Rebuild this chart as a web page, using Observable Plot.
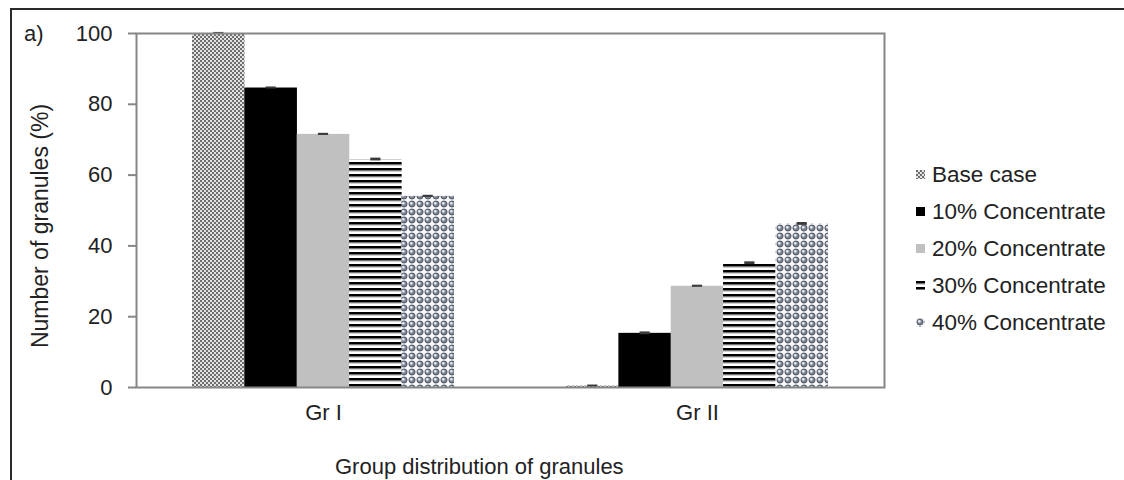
<!DOCTYPE html>
<html>
<head>
<meta charset="utf-8">
<script src="https://cdn.jsdelivr.net/npm/d3@7"></script>
<script src="https://cdn.jsdelivr.net/npm/@observablehq/plot@0.6"></script>
<style>
  body { margin: 0; background: #fff; font-family: "Liberation Sans", Arial, sans-serif; }
  #wrap { position: relative; width: 1124px; height: 480px; overflow: hidden; background: #fff; }
  #chart { position: absolute; left: 0; top: 0; }
  #outline { position: absolute; left: 10px; top: 8px; width: 1300px; height: 700px;
             border-left: 2px solid #2a2a2a; border-top: 2px solid #2a2a2a; }
  .txt { position: absolute; color: #222; white-space: nowrap; line-height: 1; }
  #panel { left: 24px; top: 23px; font-size: 22px; }
  #ytitle { left: 40px; top: 226px; font-size: 23px; transform: translate(-50%, -50%) rotate(-90deg); }
  #xtitle { left: 335px; top: 456px; font-size: 22px; }
  #legend { position: absolute; left: 916px; top: 156px; }
  .item { display: flex; align-items: center; height: 37px; font-size: 22.5px; color: #222; }
  .item svg { margin-right: 7px; }
</style>
</head>
<body>
<div id="wrap">
  <div id="outline"></div>
  <div id="chart"></div>
  <div class="txt" id="panel">a)</div>
  <div class="txt" id="ytitle">Number of granules (%)</div>
  <div class="txt" id="xtitle">Group distribution of granules</div>
  <div id="legend"></div>
</div>
<script>
// Granule groups and concentrate levels
const groups = ["Gr I", "Gr II"];
const series = ["Base case", "10% Concentrate", "20% Concentrate", "30% Concentrate", "40% Concentrate"];

// Share of granules (%) per series, Gr I then Gr II
const grIValues  = [100, 84.6, 71.5, 64.4, 54.0];
const grIIValues = [0.4, 15.3, 28.6, 35.1, 46.2];

// Standard errors
const grIErrors  = [0.3, 0.3, 0.3, 0.4, 0.3];
const grIIErrors = [0.3, 0.4, 0.3, 0.4, 0.4];

const yTicks = [0, 20, 40, 60, 80, 100];

// Fill for each series (patterns defined below)
const fills = ["url(#p-base)", "#000000", "#c0c0c0", "url(#p-stripe)", "url(#p-bubble)"];

const rows = series.flatMap((s, i) => [
  {group: groups[0], series: s, value: grIValues[i], error: grIErrors[i]},
  {group: groups[1], series: s, value: grIIValues[i], error: grIIErrors[i]}
]);

const W = 1124, H = 480;
const mL = 136, mR = 240, mT = 33, mB = 93;

// Width of one bar inside a group band (same band settings as the x scale)
const band = d3.scaleBand().domain(groups).range([mL, W - mR]).paddingInner(0.3).paddingOuter(0.15);
const bw = band.bandwidth() / series.length;
const capW = 10;

const barMarks = series.flatMap((s, i) => {
  const data = rows.filter(d => d.series === s);
  return [
    Plot.barY(data, {
      x: "group", y: "value", fill: fills[i],
      insetLeft: i * bw, insetRight: (series.length - 1 - i) * bw
    }),
    Plot.barY(data, {
      x: "group", y1: d => d.value - d.error, y2: d => d.value + d.error, fill: "#3a3a3a",
      insetLeft: i * bw + bw / 2 - capW / 2,
      insetRight: (series.length - 1 - i) * bw + bw / 2 - capW / 2
    })
  ];
});

const svg = Plot.plot({
  width: W, height: H,
  marginLeft: mL, marginRight: mR, marginTop: mT, marginBottom: mB,
  style: {fontFamily: "Liberation Sans, Arial, sans-serif", fontSize: "22px", color: "#222", background: "transparent", overflow: "visible"},
  x: {domain: groups, paddingInner: 0.3, paddingOuter: 0.15, label: null, tickSize: 0, tickPadding: 17},
  y: {domain: [0, 100], ticks: yTicks, tickSize: 8, tickPadding: 16, label: null},
  marks: [
    ...barMarks,
    Plot.frame({stroke: "#868686", strokeWidth: 2})
  ]
});

// Pattern definitions used by the bars and the legend swatches
const defs = d3.select(svg).insert("defs", ":first-child");

const pBase = defs.append("pattern").attr("id", "p-base").attr("patternUnits", "userSpaceOnUse")
  .attr("width", 4).attr("height", 4);
pBase.append("rect").attr("width", 4).attr("height", 4).attr("fill", "#e2e2e2");
pBase.append("rect").attr("width", 2).attr("height", 2).attr("fill", "#6e6e6e");
pBase.append("rect").attr("x", 2).attr("y", 2).attr("width", 2).attr("height", 2).attr("fill", "#6e6e6e");

const pStripe = defs.append("pattern").attr("id", "p-stripe").attr("patternUnits", "userSpaceOnUse")
  .attr("width", 6).attr("height", 6);
pStripe.append("rect").attr("width", 6).attr("height", 6).attr("fill", "#ffffff");
pStripe.append("rect").attr("width", 6).attr("height", 2.6).attr("fill", "#000000");
pStripe.append("rect").attr("y", 2.6).attr("width", 6).attr("height", 0.8).attr("fill", "#8a8a8a");

const pBubble = defs.append("pattern").attr("id", "p-bubble").attr("patternUnits", "userSpaceOnUse")
  .attr("width", 8).attr("height", 8);
pBubble.append("rect").attr("width", 8).attr("height", 8).attr("fill", "#f7f9fc");
pBubble.append("circle").attr("cx", 4).attr("cy", 4).attr("r", 3.1).attr("fill", "#7a8392").attr("stroke", "#434a56").attr("stroke-width", 0.8);
pBubble.append("circle").attr("cx", 3.3).attr("cy", 3.3).attr("r", 1.4).attr("fill", "#e2e6ed");

// Axis tick marks in the frame grey
d3.select(svg).selectAll('g[aria-label^="y-axis"] path, g[aria-label^="y-axis"] line')
  .attr("stroke", "#868686").attr("stroke-width", 2);

document.getElementById("chart").appendChild(svg);

// Legend
const legend = d3.select("#legend");
series.forEach((s, i) => {
  const item = legend.append("div").attr("class", "item");
  const sw = item.append("svg").attr("width", 9).attr("height", 9);
  sw.append("rect").attr("width", 9).attr("height", 9).attr("fill", fills[i]);
  item.append("span").text(s);
});
</script>
</body>
</html>
